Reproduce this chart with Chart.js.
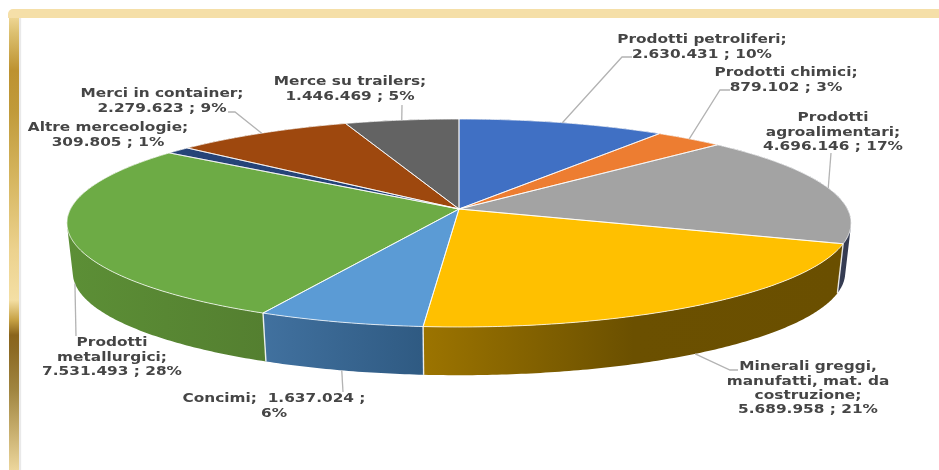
<!DOCTYPE html>
<html lang="it">
<head>
<meta charset="utf-8">
<title>Merceologie</title>
<script src="https://cdn.jsdelivr.net/npm/chart.js@4"></script>
<style>
    html, body { margin: 0; padding: 0; background: #fff; }
    #wrap { position: relative; width: 939px; height: 470px; overflow: hidden; }
    #frameTop { position: absolute; left: 8px; top: 9px; right: 0; height: 9px; background: #f5dfa8; border-top-left-radius: 5px; }
    #frameLeft {
        position: absolute; left: 9px; top: 13px; width: 10px; bottom: 0;
        background: linear-gradient(to bottom, #f3dc9e 0, #dcc070 20px, #bd9230 57px, #c09a3a 97px, #d6b660 167px,
            #ecd28e 237px, #f4dfa4 287px, #c6a144 307px, #8a641c 322px, #8c6a24 337px, #a08540 377px, #c6ad6c 417px, #ecd69c 457px);
        box-shadow: 2px 0 1px #e9e9e9;
    }
    canvas { position: absolute; left: 0; top: 0; filter: blur(0.45px); }
</style>
</head>
<body>
<div id="wrap">
    <div id="frameLeft"></div>
    <div id="frameTop"></div>
    <canvas id="pieChart" width="939" height="470"></canvas>
</div>
<script>
// Tonnellate per merceologia
const categories = ['Prodotti petroliferi', 'Prodotti chimici', 'Prodotti agroalimentari',
    'Minerali greggi, manufatti, mat. da costruzione', 'Concimi', 'Prodotti metallurgici',
    'Altre merceologie', 'Merci in container', 'Merce su trailers'];
const values = [2630431, 879102, 4696146, 5689958, 1637024, 7531493, 309805, 2279623, 1446469];
const valueLabels = ['2.630.431', '879.102', '4.696.146', '5.689.958', '1.637.024', '7.531.493', '309.805', '2.279.623', '1.446.469'];
const percents = [10, 3, 17, 21, 6, 28, 1, 9, 5];
const sliceColors = ['#4070c4', '#ed7d31', '#a3a3a3', '#ffc000', '#5b9bd5', '#6dab45', '#264478', '#9e480e', '#636363'];

// Side wall colours, left to right across each slice
const rimColors = [
    ['#2f5088', '#2f5088'], ['#a55720', '#a55720'], ['#5a6072', '#333a50'], ['#9c7400', '#6b5000', '#6a4f00'],
    ['#41719f', '#2f5a82'], ['#5c8f36', '#547f30'], ['#1a2f54', '#1a2f54'], ['#6e320a', '#6e320a'], ['#454545', '#454545']
];

// Label text broken as in the picture, with centre x and first line y
const labelLines = [
    ['Prodotti petroliferi;', '{v} ; {p}%'],
    ['Prodotti chimici;', '{v} ; {p}%'],
    ['Prodotti', 'agroalimentari;', '{v} ; {p}%'],
    ['Minerali greggi,', 'manufatti, mat. da', 'costruzione;', '{v} ; {p}%'],
    ['Concimi;  {v} ;', '{p}%'],
    ['Prodotti', 'metallurgici;', '{v} ; {p}%'],
    ['Altre merceologie;', '{v} ; {p}%'],
    ['Merci in container;', '{v} ; {p}%'],
    ['Merce su trailers;', '{v} ; {p}%']
];
const labelPos = [[702, 40], [786, 73], [833, 118], [808, 367], [274, 399], [112, 343], [108, 128], [162, 94], [350, 82]];
const LINE_HEIGHT = 14.2;
const TEXT_STRETCH = 1.18;

// Leader lines: the first point comes from the slice, these are the bends after it
const leaderBends = [
    [[622, 57], [632, 57]], [[720, 90], [730, 90]], [[831, 153]], [[730, 370], [738, 370]],
    [[343, 392]], [[76, 336]], null, [[235, 112], [228, 112]], [[402, 105]]
];
// 0 = leader leaves the top face, 1 = leaves the bottom of the wall
const leaderLevel = [0, 0, 0, 1, 1, 1, 0, 0, 0];

// Perspective of the tilted disc
const view = { x: 459, y: 209, a: 388.5, b: 102.1, k: 0.1346, depth: 50, shrink: 0.015 };

function project(angle, z) {
    const u = Math.cos(angle);
    const v = Math.sin(angle);
    const w = 1 - view.k * v;
    const s = 1 - view.shrink * z;
    return { x: view.x + view.a * s * u / w, y: view.y + view.depth * z + view.b * s * v / w };
}

function traceSlice(ctx, start, end) {
    const steps = Math.max(2, Math.ceil((end - start) * 90));
    ctx.beginPath();
    ctx.moveTo(view.x, view.y);
    for (let i = 0; i <= steps; i++) {
        const p = project(start + (end - start) * i / steps, 0);
        ctx.lineTo(p.x, p.y);
    }
    ctx.closePath();
}

function drawRim(ctx, arc, colors) {
    const steps = Math.max(2, Math.ceil((arc.endAngle - arc.startAngle) * 90));
    const d = (arc.endAngle - arc.startAngle) / steps;
    let minX = Infinity, maxX = -Infinity;
    ctx.beginPath();
    for (let i = 0; i < steps; i++) {
        const a = arc.startAngle + i * d;
        const p0 = project(a, 0), p1 = project(a + d, 0), p2 = project(a + d, 1), p3 = project(a, 1);
        // keep every quad wound the same way so the fill makes one shape
        const area = (p1.x - p0.x) * (p3.y - p0.y) - (p1.y - p0.y) * (p3.x - p0.x);
        const quad = area > 0 ? [p0, p1, p2, p3] : [p3, p2, p1, p0];
        ctx.moveTo(quad[0].x, quad[0].y);
        ctx.lineTo(quad[1].x, quad[1].y);
        ctx.lineTo(quad[2].x, quad[2].y);
        ctx.lineTo(quad[3].x, quad[3].y);
        ctx.closePath();
        minX = Math.min(minX, p0.x, p1.x, p3.x);
        maxX = Math.max(maxX, p0.x, p1.x, p3.x);
    }
    const grad = ctx.createLinearGradient(minX, 0, maxX, 0);
    colors.forEach((c, i) => grad.addColorStop(i / (colors.length - 1), c));
    ctx.fillStyle = grad;
    ctx.fill();
}

function fillText(line, i) {
    return line.replace('{v}', valueLabels[i]).replace('{p}', percents[i]);
}

// The library works out the slice angles, this plugin draws them tilted
const tiltedPie = {
    id: 'tiltedPie',
    beforeDatasetsDraw(chart) {
        const ctx = chart.ctx;
        const arcs = chart.getDatasetMeta(0).data;
        ctx.save();

        // side wall
        arcs.forEach((arc, i) => drawRim(ctx, arc, rimColors[i]));
        ctx.strokeStyle = 'rgba(255,255,255,0.85)';
        ctx.lineWidth = 1.4;
        arcs.forEach(arc => {
            const a = project(arc.startAngle, 0), b = project(arc.startAngle, 1);
            if (Math.sin(arc.startAngle) > 0.2) {
                ctx.beginPath();
                ctx.moveTo(a.x, a.y);
                ctx.lineTo(b.x, b.y);
                ctx.stroke();
            }
        });

        // top face
        arcs.forEach((arc, i) => {
            traceSlice(ctx, arc.startAngle, arc.endAngle);
            ctx.fillStyle = sliceColors[i];
            ctx.fill();
        });
        ctx.strokeStyle = 'rgba(255,255,255,0.75)';
        ctx.lineWidth = 1;
        arcs.forEach(arc => {
            traceSlice(ctx, arc.startAngle, arc.endAngle);
            ctx.stroke();
        });

        // leader lines
        ctx.strokeStyle = '#b3b3b3';
        ctx.lineWidth = 1.3;
        arcs.forEach((arc, i) => {
            if (!leaderBends[i]) return;
            const start = project((arc.startAngle + arc.endAngle) / 2, leaderLevel[i]);
            ctx.beginPath();
            ctx.moveTo(start.x, start.y);
            leaderBends[i].forEach(p => ctx.lineTo(p[0], p[1]));
            ctx.stroke();
        });

        // labels, stretched sideways like the picture
        ctx.fillStyle = '#454545';
        ctx.font = 'bold 13px "DejaVu Sans"';
        ctx.textAlign = 'center';
        ctx.textBaseline = 'middle';
        labelLines.forEach((lines, i) => {
            lines.forEach((line, n) => {
                ctx.save();
                ctx.translate(labelPos[i][0], labelPos[i][1] + n * LINE_HEIGHT);
                ctx.scale(TEXT_STRETCH, 1);
                ctx.fillText(fillText(line, i), 0, 0);
                ctx.restore();
            });
        });

        ctx.restore();
        return false;
    }
};

document.addEventListener('DOMContentLoaded', function() {
    new Chart(document.getElementById('pieChart'), {
        type: 'pie',
        data: {
            labels: categories,
            datasets: [{ data: values, backgroundColor: sliceColors }]
        },
        options: {
            responsive: false,
            animation: false,
            plugins: {
                legend: { display: false },
                tooltip: { enabled: false }
            }
        },
        plugins: [tiltedPie]
    });
});
</script>
</body>
</html>
